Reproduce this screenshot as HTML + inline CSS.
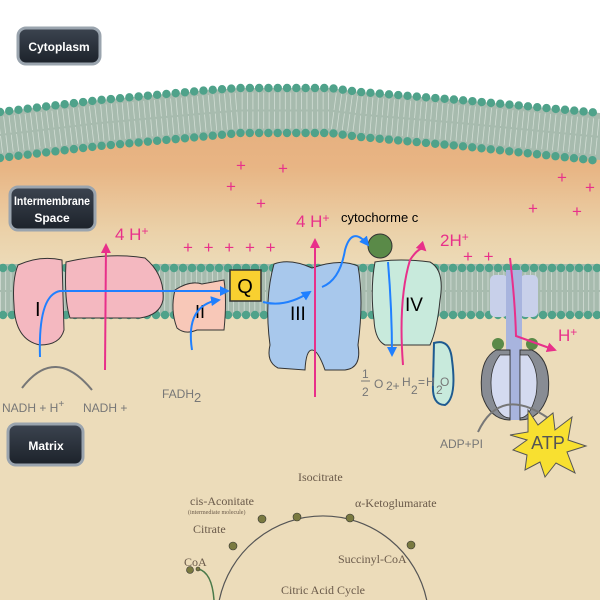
<!DOCTYPE html>
<html><head><meta charset="utf-8"><style>
html,body{margin:0;padding:0;width:600px;height:600px;overflow:hidden;background:#fff}
svg{display:block;overflow:hidden}
.lbl{font-family:"Liberation Sans",sans-serif;font-weight:bold;fill:#fff;font-size:12px}
.pk{fill:#e8308a;font-family:"Liberation Sans",sans-serif;font-size:17px}
.gr{fill:#777;font-family:"Liberation Sans",sans-serif;font-size:12px}
.sf{font-family:"Liberation Serif",serif;fill:#6a5a4a;font-size:12px}
</style></head><body>
<svg width="600" height="600" viewBox="0 0 600 600" xmlns="http://www.w3.org/2000/svg">
<defs>
<linearGradient id="bg" x1="0" y1="0" x2="0" y2="1">
<stop offset="0" stop-color="#e6b080"/><stop offset="0.08" stop-color="#e8b584"/><stop offset="0.22" stop-color="#ebd2aa"/><stop offset="0.3" stop-color="#ecdcba"/><stop offset="1" stop-color="#ecdcba"/>
</linearGradient>
<linearGradient id="box" x1="0" y1="0" x2="0" y2="1"><stop offset="0" stop-color="#3c4450"/><stop offset="1" stop-color="#1c222a"/></linearGradient>
<marker id="ab" viewBox="0 0 10 10" refX="8" refY="5" markerWidth="5" markerHeight="5" orient="auto"><path d="M0,0L10,5L0,10z" fill="#2080ff"/></marker>
<marker id="ap" viewBox="0 0 10 10" refX="8" refY="5" markerWidth="5" markerHeight="5" orient="auto"><path d="M0,0L10,5L0,10z" fill="#e8308a"/></marker>
</defs>
<path d="M0,150 L100,140 L210,130 L330,130 L460,142 L600,155 L600,600 L0,600Z" fill="url(#bg)"/>
<!-- outer membrane -->
<path d="M0,112 L100,100 L210,90 L240,88 L330,88 L360,92 L460,100 L600,113 L600,160 L460,146 L360,137 L330,133 L240,133 L210,136 L100,146 L0,158Z" fill="#a7bbae"/>
<path d="M0,135 L100,123 L210,113 L240,110.5 L330,110.5 L360,114.5 L460,123 L600,137" fill="none" stroke="#e4ece6" stroke-opacity=".7" stroke-width="36" stroke-dasharray="0.8 4.6"/>
<path d="M0,135 L100,123 L210,113 L240,110.5 L330,110.5 L360,114.5 L460,123 L600,137" fill="none" stroke="#a7bbae" stroke-width="2"/>
<path d="M0,112 L100,100 L210,90 L240,88 L330,88 L360,92 L460,100 L600,113" fill="none" stroke="#4fa28a" stroke-width="8.4" stroke-linecap="round" stroke-dasharray="0 9.3"/>
<path d="M0,158 L100,146 L210,136 L240,133 L330,133 L360,137 L460,146 L600,161" fill="none" stroke="#4fa28a" stroke-width="8.4" stroke-linecap="round" stroke-dasharray="0 9.3"/>
<!-- inner membrane -->
<rect x="0" y="264" width="600" height="52" fill="#a7bbae"/>
<line x1="0" y1="291" x2="600" y2="291" stroke="#e4ece6" stroke-opacity=".7" stroke-width="42" stroke-dasharray="0.8 4.5"/>
<line x1="0" y1="291" x2="600" y2="291" stroke="#a7bbae" stroke-width="2"/>
<line x1="3" y1="268" x2="600" y2="268" stroke="#4fa28a" stroke-width="8.4" stroke-linecap="round" stroke-dasharray="0 9"/>
<line x1="3" y1="315" x2="600" y2="315" stroke="#4fa28a" stroke-width="8.4" stroke-linecap="round" stroke-dasharray="0 9"/>
<!-- labels -->
<rect x="18" y="28" width="82" height="36" rx="8" fill="url(#box)" stroke="#9aa4ae" stroke-width="3"/>
<text x="59" y="51" class="lbl" text-anchor="middle">Cytoplasm</text>
<rect x="10" y="187" width="85" height="43" rx="8" fill="url(#box)" stroke="#9aa4ae" stroke-width="3"/>
<text x="52" y="205" class="lbl" text-anchor="middle" font-size="10" textLength="76" lengthAdjust="spacingAndGlyphs">Intermembrane</text>
<text x="52" y="222" class="lbl" text-anchor="middle" font-size="10">Space</text>
<rect x="8" y="424" width="75" height="41" rx="8" fill="url(#box)" stroke="#9aa4ae" stroke-width="3"/>
<text x="46" y="450" class="lbl" text-anchor="middle">Matrix</text>
<g class="pk" font-size="14">
<text x="236" y="171">+</text><text x="278" y="174">+</text><text x="226" y="192">+</text><text x="256" y="209">+</text>
<text x="557" y="183">+</text><text x="585" y="193">+</text><text x="528" y="214">+</text><text x="572" y="217">+</text>
<text x="183" y="253" letter-spacing="3">+ + + + +</text>
<text x="463" y="262" letter-spacing="3">+ +</text>
</g>
<!-- Complex I -->
<path d="M18,265 Q40,255 62,260 L64,330 Q60,345 40,345 Q15,340 14,305 Q12,280 18,265Z" fill="#f4b8c0" stroke="#333" stroke-width="1"/>
<path d="M66,262 Q110,252 145,258 Q165,275 163,300 Q160,315 140,318 L70,318 Q64,300 66,262Z" fill="#f4b8c0" stroke="#333" stroke-width="1"/>
<text x="35" y="316" font-family="Liberation Sans" font-size="20">I</text>
<!-- Complex II -->
<path d="M175,290 Q190,280 202,284 L224,280 Q227,300 224,330 L197,330 Q185,335 177,328 Q170,310 175,290Z" fill="#f8c8b8" stroke="#333" stroke-width="1"/>
<text x="195" y="318" font-family="Liberation Sans" font-size="18">II</text>
<rect x="230" y="270" width="31" height="31" fill="#f8d030" stroke="#333" stroke-width="1.5"/>
<text x="245" y="293" font-family="Liberation Sans" font-size="20" text-anchor="middle">Q</text>
<!-- Complex III -->
<path d="M274,264 Q290,258 312,268 Q340,258 358,266 Q364,300 358,345 Q362,368 345,370 L325,370 Q318,350 312,350 Q306,350 305,370 L278,368 Q266,362 270,345 Q264,300 274,264Z" fill="#a8c8ec" stroke="#333" stroke-width="1"/>
<text x="290" y="320" font-family="Liberation Sans" font-size="19">III</text>
<!-- Complex IV -->
<path d="M375,262 Q400,258 430,262 Q445,270 440,300 Q437,330 430,345 L385,345 Q375,340 374,320 Q370,290 375,262Z" fill="#c8eadc" stroke="#333" stroke-width="1"/>
<text x="405" y="311" font-family="Liberation Sans" font-size="19">IV</text>
<path d="M434,343 Q450,338 452,360 Q457,398 445,405 Q432,405 433,385 Z" fill="#c8eadc" stroke="#1e5a90" stroke-width="2"/>
<circle cx="380" cy="246" r="12" fill="#5a8a48" stroke="#333" stroke-width="1"/>
<text x="341" y="222" font-family="Liberation Sans" font-size="13">cytochorme  c</text>
<!-- ATP synthase -->
<rect x="490" y="275" width="18" height="42" rx="5" fill="#c8d0ea"/>
<rect x="520" y="275" width="18" height="42" rx="5" fill="#c8d0ea"/>
<rect x="506" y="270" width="16" height="150" fill="#a8b4de"/>
<circle cx="498" cy="344" r="6" fill="#5a8a48"/><circle cx="532" cy="344" r="6" fill="#5a8a48"/>
<path d="M496,350 Q478,360 482,395 Q490,420 510,420 L510,350Z" fill="#888c94" stroke="#333"/>
<path d="M532,350 Q552,360 548,395 Q540,420 520,420 L520,350Z" fill="#888c94" stroke="#333"/>
<path d="M500,355 Q488,370 492,395 Q498,418 510,418 L510,355Z" fill="#d4daf0" stroke="#333" stroke-width=".8"/>
<path d="M528,355 Q540,370 536,395 Q530,418 520,418 L520,355Z" fill="#d4daf0" stroke="#333" stroke-width=".8"/>
<g stroke="#e8308a" stroke-width="2" fill="none">
<path d="M105,370 L106,245" marker-end="url(#ap)"/>
<path d="M315,397 L315,240" marker-end="url(#ap)"/>
<path d="M403,365 Q398,300 410,260 Q420,245 425,250" marker-end="url(#ap)"/>
<path d="M510,258 Q515,300 516,336 L555,350" marker-end="url(#ap)"/>
</g>
<text x="115" y="240" class="pk">4 H<tspan font-size="12" dy="-5">+</tspan></text>
<text x="296" y="227" class="pk">4 H<tspan font-size="12" dy="-5">+</tspan></text>
<text x="440" y="246" class="pk">2H<tspan font-size="12" dy="-5">+</tspan></text>
<text x="558" y="341" class="pk">H<tspan font-size="12" dy="-5">+</tspan></text>
<g stroke="#2080ff" stroke-width="2" fill="none">
<path d="M40,357 Q38,295 60,291 L228,291" marker-end="url(#ab)"/>
<path d="M192,350 Q185,305 219,300" marker-end="url(#ab)"/>
<path d="M263,302 Q285,308 310,292" marker-end="url(#ab)"/>
<path d="M322,287 Q340,280 345,250 Q352,225 368,245" marker-end="url(#ab)"/>
<path d="M388,262 Q392,310 392,355" marker-end="url(#ab)"/>
</g>
<path d="M22,388 Q55,345 92,390" stroke="#777" stroke-width="2" fill="none"/>
<text x="2" y="412" class="gr">NADH + H<tspan font-size="10" dy="-5">+</tspan></text>
<text x="83" y="412" class="gr">NADH +</text>
<text x="162" y="398" class="gr">FADH<tspan font-size="13" dy="4">2</tspan></text>
<g class="gr" font-size="13">
<text x="362" y="378">1</text><line x1="361" y1="381" x2="370" y2="381" stroke="#777"/><text x="362" y="396">2</text>
<text x="374" y="388">O</text><text x="386" y="390">2+</text><text x="402" y="386">H</text><text x="411" y="394">2</text><text x="418" y="386">=</text><text x="426" y="386">H</text><text x="436" y="394">2</text><text x="440" y="386">O</text>
</g>
<path d="M478,432 Q500,385 548,418" stroke="#777" stroke-width="2" fill="none"/>
<text x="440" y="448" class="gr">ADP+PI</text>
<polygon points="528,410 538,425 553,413 555,430 572,417 568,440 586,446 567,452 575,473 556,463 545,477 540,462 525,470 527,455 513,450 527,440 510,435 528,432" fill="#f8e030" stroke="#555"/>
<text x="548" y="449" text-anchor="middle" font-family="Liberation Sans" font-size="18" fill="#555">ATP</text>
<!-- citric acid cycle -->
<path d="M219.3,600 A106,106 0 0 1 426.7,600" fill="none" stroke="#555" stroke-width="1.2"/>
<path d="M198,569 Q212,572 214,600" stroke="#4a7a4a" stroke-width="1.5" fill="none"/>
<g fill="#7a7a40" stroke="#333" stroke-width=".6">
<circle cx="190" cy="570" r="3.5"/><circle cx="198" cy="569" r="2"/>
<circle cx="233" cy="546" r="4"/><circle cx="262" cy="519" r="4"/><circle cx="297" cy="517" r="4"/><circle cx="350" cy="518" r="4"/><circle cx="411" cy="545" r="4"/>
</g>
<text x="298" y="481" class="sf" font-size="11">Isocitrate</text>
<text x="190" y="505" class="sf">cis-Aconitate</text>
<text transform="translate(188,514) scale(0.5)" class="sf" font-size="10">(intermediate molecule)</text>
<text x="355" y="507" class="sf">α-Ketoglumarate</text>
<text x="193" y="533" class="sf">Citrate</text>
<text x="184" y="566" class="sf">CoA</text>
<text x="338" y="563" class="sf">Succinyl-CoA</text>
<text x="281" y="594" class="sf" fill="#b0a040">Citric Acid Cycle</text>
</svg>
</body></html>
